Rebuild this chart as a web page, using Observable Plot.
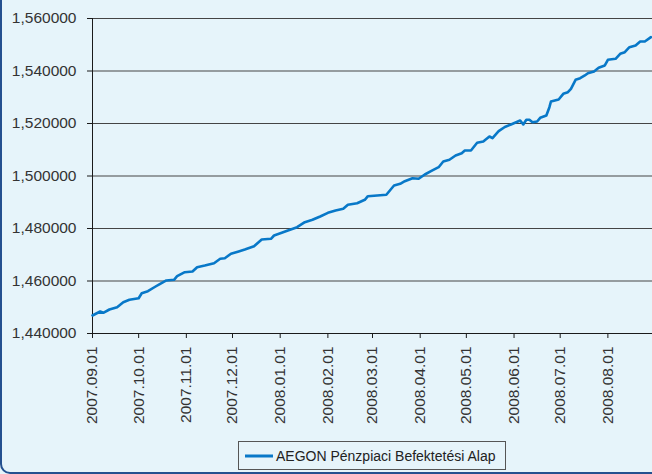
<!DOCTYPE html>
<html>
<head>
<meta charset="utf-8">
<script src="https://cdn.jsdelivr.net/npm/d3@7"></script>
<script src="https://cdn.jsdelivr.net/npm/@observablehq/plot@0.6"></script>
<style>
  html, body { margin: 0; padding: 0; width: 652px; height: 474px; overflow: hidden; background: #e6f4fa; }
  #frame { position: absolute; left: 0; top: -20px; width: 700px; height: 494px; border: 2px solid #24508f; border-radius: 10px; box-sizing: border-box; }
  #chart { position: absolute; left: 0; top: 0; }
  #legend { position: absolute; left: 238px; top: 441px; width: 268px; height: 29px; box-sizing: border-box; border: 1px solid #555; display: flex; align-items: center; white-space: nowrap; font-family: "Liberation Sans", Arial, sans-serif; font-size: 14px; color: #222; }
  #legend svg { margin-left: 6px; margin-right: 3px; flex: none; }
</style>
</head>
<body>
<div id="frame"></div>
<div id="chart"></div>
<div id="legend"><svg width="28" height="6"><line x1="0" x2="28" y1="3" y2="3" stroke="#0878c8" stroke-width="3"/></svg><span id="legtext"></span></div>
<script>
const seriesName = "AEGON Pénzpiaci Befektetési Alap";
const dates = [
  "2007-09-01","2007-09-06","2007-09-08","2007-09-12","2007-09-17","2007-09-21","2007-09-25","2007-10-01",
  "2007-10-03","2007-10-07","2007-10-12","2007-10-15","2007-10-19","2007-10-24","2007-10-26","2007-10-31",
  "2007-11-05","2007-11-08","2007-11-13","2007-11-19","2007-11-23","2007-11-26","2007-11-30","2007-12-05",
  "2007-12-09","2007-12-15","2007-12-20","2007-12-26","2007-12-28","2008-01-02","2008-01-06","2008-01-12",
  "2008-01-17","2008-01-22","2008-01-27","2008-02-01","2008-02-06","2008-02-11","2008-02-14","2008-02-20",
  "2008-02-25","2008-02-27","2008-03-04","2008-03-10","2008-03-15","2008-03-19","2008-03-22","2008-03-27",
  "2008-03-31","2008-04-04","2008-04-08","2008-04-13","2008-04-16","2008-04-20","2008-04-24","2008-04-28",
  "2008-04-30","2008-05-04","2008-05-08","2008-05-12","2008-05-16","2008-05-18","2008-05-22","2008-05-26",
  "2008-05-30","2008-06-05","2008-06-07","2008-06-09","2008-06-11","2008-06-13","2008-06-16","2008-06-18",
  "2008-06-22","2008-06-24","2008-06-25","2008-06-30","2008-07-03","2008-07-06","2008-07-08","2008-07-11",
  "2008-07-14","2008-07-17","2008-07-19","2008-07-23","2008-07-26","2008-07-30","2008-08-01","2008-08-06",
  "2008-08-09","2008-08-12","2008-08-15","2008-08-19","2008-08-22","2008-08-25","2008-08-29"
];
const values = [
  1.44686,1.44838,1.44789,1.44914,1.45002,1.45192,1.45284,1.45345,
  1.45535,1.45611,1.45790,1.45893,1.46020,1.46046,1.46183,1.46335,
  1.46362,1.46526,1.46590,1.46678,1.46846,1.46869,1.47036,1.47124,
  1.47200,1.47326,1.47581,1.47608,1.47733,1.47836,1.47924,1.48050,
  1.48240,1.48331,1.48457,1.48598,1.48686,1.48750,1.48903,1.48964,
  1.49093,1.49230,1.49257,1.49284,1.49638,1.49703,1.49802,1.49916,
  1.49893,1.50057,1.50183,1.50335,1.50552,1.50617,1.50781,1.50869,
  1.50971,1.50971,1.51265,1.51314,1.51505,1.51440,1.51707,1.51867,
  1.51962,1.52114,1.51962,1.52141,1.52141,1.52050,1.52076,1.52217,
  1.52305,1.52621,1.52838,1.52914,1.53131,1.53192,1.53322,1.53665,
  1.53726,1.53829,1.53916,1.53981,1.54122,1.54210,1.54427,1.54465,
  1.54655,1.54716,1.54907,1.54971,1.55124,1.55124,1.55288
];
const yTicks = [1.44, 1.46, 1.48, 1.50, 1.52, 1.54, 1.56];
const xTickLabels = ["2007.09.01","2007.10.01","2007.11.01","2007.12.01","2008.01.01","2008.02.01",
  "2008.03.01","2008.04.01","2008.05.01","2008.06.01","2008.07.01","2008.08.01"];

document.getElementById("legtext").textContent = seriesName;

const parse = d3.utcParse("%Y-%m-%d");
const data = dates.map((d, i) => ({date: parse(d), value: values[i]}));
const xTicks = xTickLabels.map(s => d3.utcParse("%Y.%m.%d")(s));
const xDomain = [parse("2007-09-01"), parse("2008-08-30")];

const chart = Plot.plot({
  width: 652,
  height: 430,
  marginLeft: 92,
  marginRight: 0,
  marginTop: 18,
  marginBottom: 97,
  style: {background: "transparent", fontFamily: "'Liberation Sans', Arial, sans-serif", fontSize: "15.5px", color: "#222"},
  x: {type: "utc", domain: xDomain},
  y: {domain: [1.44, 1.56]},
  marks: [
    Plot.gridY(yTicks, {stroke: "#444", strokeOpacity: 1, strokeWidth: 1.2, x1: xDomain[0], x2: xDomain[1]}),
    Plot.axisY(yTicks, {tickSize: 5, tickPadding: 11, tickFormat: d => d.toFixed(6).replace(".", ","), label: null, stroke: "#1a1a1a", fill: "#333"}),
    Plot.axisX(xTicks, {tickSize: 5, tickPadding: 8, tickRotate: -90, tickFormat: d3.utcFormat("%Y.%m.%d"), label: null, stroke: "#1a1a1a", fill: "#333"}),
    Plot.ruleX([xDomain[0]], {stroke: "#1a1a1a", strokeWidth: 1}),
    Plot.ruleY([1.44], {stroke: "#1a1a1a", strokeWidth: 1}),
    Plot.line(data, {x: "date", y: "value", stroke: "#0878c8", strokeWidth: 2.6, strokeLinejoin: "round"})
  ]
});
document.getElementById("chart").appendChild(chart);
</script>
</body>
</html>
